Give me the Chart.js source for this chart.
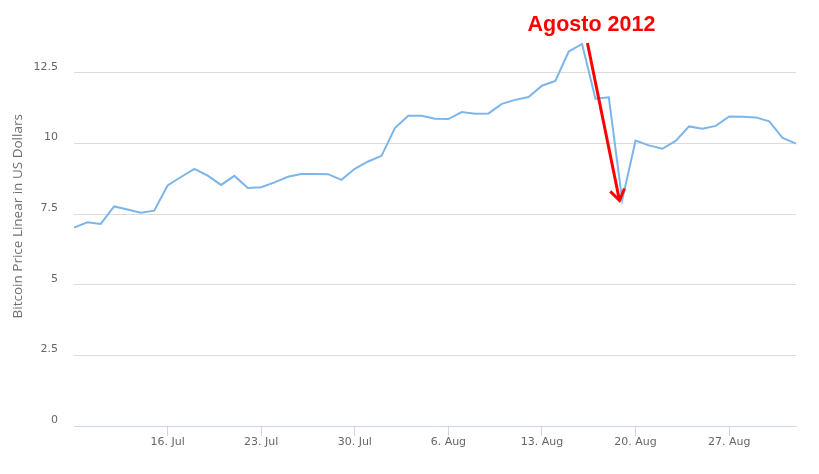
<!DOCTYPE html>
<html>
<head>
<meta charset="utf-8">
<script src="https://cdn.jsdelivr.net/npm/chart.js@4/dist/chart.umd.min.js"></script>
<style>
  html, body { margin: 0; padding: 0; background: #ffffff; }
  #wrap { width: 819px; height: 474px; position: relative; }
</style>
</head>
<body>
<div id="wrap"><canvas id="c" width="819" height="474"></canvas></div>
<script>
// ---- data ----
const categories = [
  '9. Jul','10. Jul','11. Jul','12. Jul','13. Jul','14. Jul','15. Jul',
  '16. Jul','17. Jul','18. Jul','19. Jul','20. Jul','21. Jul','22. Jul',
  '23. Jul','24. Jul','25. Jul','26. Jul','27. Jul','28. Jul','29. Jul',
  '30. Jul','31. Jul','1. Aug','2. Aug','3. Aug','4. Aug','5. Aug',
  '6. Aug','7. Aug','8. Aug','9. Aug','10. Aug','11. Aug','12. Aug',
  '13. Aug','14. Aug','15. Aug','16. Aug','17. Aug','18. Aug','19. Aug',
  '20. Aug','21. Aug','22. Aug','23. Aug','24. Aug','25. Aug','26. Aug',
  '27. Aug','28. Aug','29. Aug','30. Aug','31. Aug','1. Sep'
];
const priceUSD = [
  7.02, 7.21, 7.15, 7.77, 7.66, 7.55, 7.62,
  8.51, 8.81, 9.10, 8.86, 8.53, 8.85, 8.42,
  8.45, 8.62, 8.82, 8.92, 8.92, 8.91, 8.71,
  9.10, 9.36, 9.56, 10.54, 10.98, 10.98, 10.87,
  10.86, 11.11, 11.05, 11.06, 11.40, 11.54, 11.64,
  12.04, 12.21, 13.25, 13.52, 11.58, 11.63, 8.00,
  10.10, 9.93, 9.81, 10.09, 10.60, 10.52, 10.62,
  10.95, 10.94, 10.92, 10.78, 10.19, 9.99
];
const xTickLabels = ['16. Jul','23. Jul','30. Jul','6. Aug','13. Aug','20. Aug','27. Aug'];
const yTickValues = [0, 2.5, 5, 7.5, 10, 12.5];
const yAxisTitle = 'Bitcoin Price Linear in US Dollars';
const annotationText = 'Agosto 2012';
// annotation anchor (in data units: category index, value)
const arrowFrom = [38.4, 13.55];
const arrowTo = [40.8, 7.98];
const textAt = [38.7, 13.98];

const annotationPlugin = {
  id: 'arrowNote',
  afterDatasetsDraw(chart) {
    const { ctx, scales: { x, y } } = chart;
    const x0 = x.getPixelForValue(arrowFrom[0]), y0 = y.getPixelForValue(arrowFrom[1]);
    const x1 = x.getPixelForValue(arrowTo[0]), y1 = y.getPixelForValue(arrowTo[1]);
    ctx.save();
    ctx.strokeStyle = '#ff0000';
    ctx.lineWidth = 3;
    ctx.lineCap = 'butt';
    ctx.beginPath();
    ctx.moveTo(x0, y0);
    ctx.lineTo(x1, y1);
    ctx.stroke();
    const back = Math.atan2(y0 - y1, x0 - x1);
    const wing = 13, spread = 34 * Math.PI / 180;
    ctx.beginPath();
    ctx.moveTo(x1 + wing * Math.cos(back - spread), y1 + wing * Math.sin(back - spread));
    ctx.lineTo(x1, y1);
    ctx.lineTo(x1 + wing * Math.cos(back + spread), y1 + wing * Math.sin(back + spread));
    ctx.stroke();
    ctx.fillStyle = '#ff0000';
    ctx.font = 'bold 21.5px "Liberation Sans", Arial, sans-serif';
    ctx.textAlign = 'center';
    ctx.textBaseline = 'alphabetic';
    ctx.fillText(annotationText, x.getPixelForValue(textAt[0]), y.getPixelForValue(textAt[1]));
    ctx.restore();
  }
};

new Chart(document.getElementById('c'), {
  type: 'line',
  data: {
    labels: categories,
    datasets: [{
      data: priceUSD,
      borderColor: '#7cb5ec',
      borderWidth: 2,
      pointRadius: 0,
      pointHoverRadius: 0,
      tension: 0,
      fill: false
    }]
  },
  options: {
    responsive: false,
    animation: false,
    events: [],
    layout: { padding: { left: 0, right: 23, top: 0, bottom: 0 } },
    plugins: { legend: { display: false }, tooltip: { enabled: false } },
    scales: {
      x: {
        type: 'category',
        offset: false,
        afterFit(scale) { scale.height = 48; },
        border: { display: true, color: '#ccd6eb', width: 1 },
        grid: {
          display: true,
          drawOnChartArea: false,
          drawTicks: true,
          tickLength: 10,
          tickColor: (c) => (c.tick && xTickLabels.includes(categories[c.index])) ? '#ccd6eb' : 'rgba(0,0,0,0)',
          lineWidth: 1
        },
        ticks: {
          autoSkip: false,
          maxRotation: 0,
          minRotation: 0,
          padding: 0,
          color: '#666666',
          font: { family: '"DejaVu Sans", Verdana, sans-serif', size: 11 },
          callback: (v, i) => xTickLabels.includes(categories[i]) ? categories[i] : ''
        }
      },
      y: {
        min: 0,
        max: 14.84,
        afterFit(scale) { scale.width = 74; },
        afterBuildTicks(scale) {
          scale.ticks = yTickValues.map(v => ({ value: v }));
        },
        border: { display: false },
        grid: {
          color: (c) => (c.tick && c.tick.value === 0) ? 'rgba(0,0,0,0)' : '#dcdcdc',
          lineWidth: 1,
          drawTicks: true,
          tickLength: 16,
          tickColor: 'rgba(0,0,0,0)'
        },
        ticks: {
          padding: 0,
          labelOffset: -6,
          color: '#666666',
          font: { family: '"DejaVu Sans", Verdana, sans-serif', size: 11 },
          callback: (v) => String(v)
        },
        title: {
          display: true,
          text: yAxisTitle,
          color: '#707070',
          font: { family: '"Open Sans", sans-serif', size: 13.5 },
          padding: { top: 10, bottom: 0 }
        }
      }
    }
  },
  plugins: [annotationPlugin]
});
</script>
</body>
</html>
